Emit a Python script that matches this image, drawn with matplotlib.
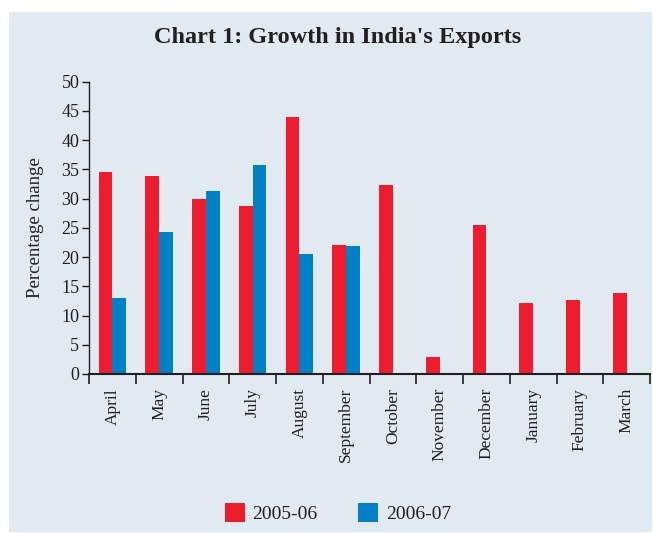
import matplotlib
matplotlib.use("Agg")
import matplotlib.pyplot as plt
import numpy as np
from matplotlib.patches import Rectangle, Patch

months = ["April", "May", "June", "July", "August", "September", "October",
          "November", "December", "January", "February", "March"]
exports_2005_06 = [34.6, 33.9, 30.0, 28.7, 44.0, 22.1, 32.3, 2.9, 25.5, 12.1, 12.7, 13.9]
exports_2006_07 = [13.0, 24.3, 31.3, 35.7, 20.5, 21.9]
series_labels = ["2005-06", "2006-07"]
yticks = [0, 5, 10, 15, 20, 25, 30, 35, 40, 45, 50]

RED = "#ED1C2E"
BLUE = "#0080C6"
BG = "#E1E9F1"
DARK = "#231F20"

plt.rcParams['font.family'] = ['Liberation Serif', 'DejaVu Serif']

fig = plt.figure(figsize=(6.53, 5.33), dpi=100)
fig.patch.set_facecolor("white")
fig.patches.append(Rectangle((9/653, 1/533), (652-9)/653, (532-12)/533,
                             transform=fig.transFigure, facecolor=BG,
                             edgecolor="none", zorder=-10))

ax = fig.add_axes([89/653, 1-374/533, (650-89)/653, (374-81.7)/533])
ax.set_facecolor("none")

w = 0.295
x = np.arange(len(months))
ax.bar(x[:len(exports_2005_06)] - w/2, exports_2005_06, width=w, color=RED, label=series_labels[0])
ax.bar(x[:len(exports_2006_07)] + w/2, exports_2006_07, width=w, color=BLUE, label=series_labels[1])

ax.set_xlim(-0.5, len(months) - 0.5)
ax.set_ylim(0, 50)
ax.set_yticks(yticks)
ax.set_yticklabels([str(v) for v in yticks], fontsize=13, color=DARK)

ax.set_xticks(np.arange(len(months) + 1) - 0.5)
ax.set_xticklabels([])
ax.set_xticks(x, minor=True)
ax.set_xticklabels(months, minor=True, rotation=90, fontsize=12.5, color=DARK,
                   ha="center", va="top")
ax.tick_params(axis="x", which="major", length=7, width=1.2, color=DARK, direction="out")
ax.tick_params(axis="x", which="minor", length=0, pad=10)
ax.tick_params(axis="y", length=5, width=1.0, color=DARK, direction="out", pad=2)

for s in ["top", "right"]:
    ax.spines[s].set_visible(False)
ax.spines["left"].set_color(DARK)
ax.spines["left"].set_linewidth(1.0)
ax.spines["bottom"].set_color(DARK)
ax.spines["bottom"].set_linewidth(1.5)

ax.set_ylabel("Percentage change", fontsize=13.6, color=DARK, labelpad=12)

fig.text(338/653, 1-38/533, "Chart 1: Growth in India's Exports",
         fontsize=17.5, fontweight="bold", color=DARK, ha="center", va="center")

handles = [Patch(facecolor=RED, label=series_labels[0]),
           Patch(facecolor=BLUE, label=series_labels[1])]
fig.legend(handles=handles, loc="center", bbox_to_anchor=(338/653, 1-513/533),
           ncol=2, frameon=False, fontsize=14, handlelength=1.03, handleheight=1.16,
           handletextpad=0.4, columnspacing=2.1, labelcolor=DARK)

fig.savefig("out.png", dpi=100, facecolor=fig.get_facecolor())
